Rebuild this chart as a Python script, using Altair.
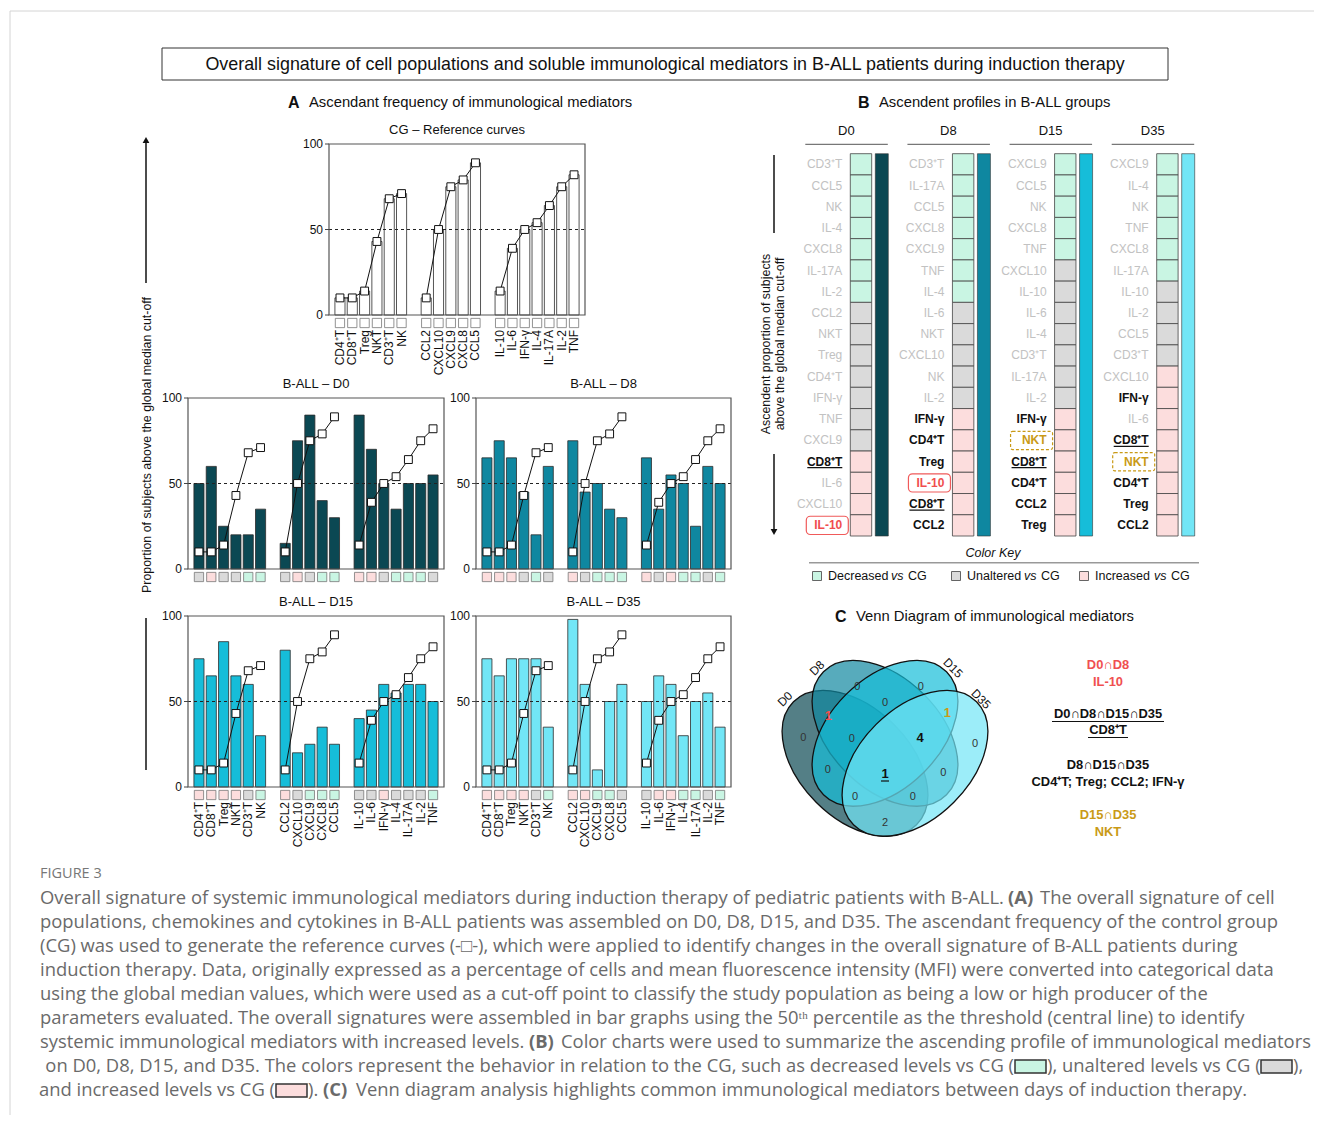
import altair as alt
import pandas as pd

# ---------------- values ----------------
CELLS = ["CD4⁺T", "CD8⁺T", "Treg", "NKT", "CD3⁺T", "NK"]
CHEMOKINES = ["CCL2", "CXCL10", "CXCL9", "CXCL8", "CCL5"]
CYTOKINES = ["IL-10", "IL-6", "IFN-γ", "IL-4", "IL-17A", "IL-2", "TNF"]

CG_REFERENCE = [10, 10, 14, 43, 68, 71, 10, 50, 75, 79, 89, 14, 39, 50, 54, 64, 75, 82]
BALL_D0 = [50, 60, 25, 20, 20, 35, 15, 75, 90, 40, 30, 90, 70, 50, 35, 50, 50, 55]
BALL_D8 = [65, 75, 65, 45, 20, 60, 75, 45, 50, 35, 30, 65, 35, 55, 50, 25, 60, 50]
BALL_D15 = [75, 65, 85, 65, 60, 30, 80, 20, 25, 35, 25, 40, 45, 60, 55, 60, 60, 50]
BALL_D35 = [75, 65, 75, 75, 75, 35, 98, 60, 10, 50, 60, 50, 65, 60, 30, 50, 55, 35]
Y_TICKS = [0, 50, 100]

DAYS = ["D0", "D8", "D15", "D35"]
PROFILE_D0 = ["CD3⁺T", "CCL5", "NK", "IL-4", "CXCL8", "IL-17A", "IL-2", "CCL2", "NKT",
              "Treg", "CD4⁺T", "IFN-γ", "TNF", "CXCL9", "CD8⁺T", "IL-6", "CXCL10", "IL-10"]
STATUS_D0 = ["dec", "dec", "dec", "dec", "dec", "dec", "dec", "un", "un",
             "un", "un", "un", "un", "un", "inc", "inc", "inc", "inc"]
PROFILE_D8 = ["CD3⁺T", "IL-17A", "CCL5", "CXCL8", "CXCL9", "TNF", "IL-4", "IL-6", "NKT",
              "CXCL10", "NK", "IL-2", "IFN-γ", "CD4⁺T", "Treg", "IL-10", "CD8⁺T", "CCL2"]
STATUS_D8 = ["dec", "dec", "dec", "dec", "dec", "dec", "dec", "un", "un",
             "un", "un", "un", "inc", "inc", "inc", "inc", "inc", "inc"]
PROFILE_D15 = ["CXCL9", "CCL5", "NK", "CXCL8", "TNF", "CXCL10", "IL-10", "IL-6", "IL-4",
               "CD3⁺T", "IL-17A", "IL-2", "IFN-γ", "NKT", "CD8⁺T", "CD4⁺T", "CCL2", "Treg"]
STATUS_D15 = ["dec", "dec", "dec", "dec", "dec", "un", "un", "un", "un",
              "un", "un", "un", "inc", "inc", "inc", "inc", "inc", "inc"]
PROFILE_D35 = ["CXCL9", "IL-4", "NK", "TNF", "CXCL8", "IL-17A", "IL-10", "IL-2", "CCL5",
               "CD3⁺T", "CXCL10", "IFN-γ", "IL-6", "CD8⁺T", "NKT", "CD4⁺T", "Treg", "CCL2"]
STATUS_D35 = ["dec", "dec", "dec", "dec", "dec", "dec", "un", "un", "un",
              "un", "inc", "inc", "inc", "inc", "inc", "inc", "inc", "inc"]
HIGHLIGHT_D0 = {"CD8⁺T": "under", "IL-10": "red"}
HIGHLIGHT_D8 = {"IFN-γ": "bold", "CD4⁺T": "bold", "Treg": "bold", "IL-10": "red",
                "CD8⁺T": "under", "CCL2": "bold"}
HIGHLIGHT_D15 = {"IFN-γ": "bold", "NKT": "gold", "CD8⁺T": "under", "CD4⁺T": "bold",
                 "CCL2": "bold", "Treg": "bold"}
HIGHLIGHT_D35 = {"IFN-γ": "bold", "CD8⁺T": "under", "NKT": "gold", "CD4⁺T": "bold",
                 "Treg": "bold", "CCL2": "bold"}

VENN_SETS = ["D0", "D8", "D15", "D35"]
VENN_REGIONS = ["D0", "D8", "D15", "D35", "D0∩D8", "D8∩D15", "D15∩D35", "D0∩D8∩D15",
                "D8∩D15∩D35", "D0∩D15", "D0∩D8∩D15∩D35", "D8∩D35", "D0∩D15∩D35",
                "D0∩D8∩D35", "D0∩D35"]
VENN_COUNTS = [0, 0, 0, 0, 1, 0, 1, 0, 4, 0, 1, 0, 0, 0, 2]
VENN_NOTES = [("D0∩D8", "red"), ("IL-10", "red"),
              ("D0∩D8∩D15∩D35", "black"), ("CD8⁺T", "black"),
              ("D8∩D15∩D35", "black"), ("CD4⁺T; Treg; CCL2; IFN-γ", "black"),
              ("D15∩D35", "gold"), ("NKT", "gold")]

TITLE = ("Overall signature of cell populations and soluble immunological mediators "
         "in B-ALL patients during induction therapy")
CAPTION = [
    ["Overall signature of systemic immunological mediators during induction therapy of pediatric patients with B-ALL.",
     "(A)", "The overall signature of cell"],
    ["populations, chemokines and cytokines in B-ALL patients was assembled on D0, D8, D15, and D35. The ascendant frequency of the control group"],
    ["(CG) was used to generate the reference curves (-□-), which were applied to identify changes in the overall signature of B-ALL patients during"],
    ["induction therapy. Data, originally expressed as a percentage of cells and mean fluorescence intensity (MFI) were converted into categorical data"],
    ["using the global median values, which were used as a cut-off point to classify the study population as being a low or high producer of the"],
    ["parameters evaluated. The overall signatures were assembled in bar graphs using the 50ᵗʰ percentile as the threshold (central line) to identify"],
    ["systemic immunological mediators with increased levels.", "(B)",
     "Color charts were used to summarize the ascending profile of immunological mediators"],
    ["on D0, D8, D15, and D35. The colors represent the behavior in relation to the CG, such as decreased levels vs CG (",
     "), unaltered levels vs CG (", "),"],
    ["and increased levels vs CG (", ").", "(C)",
     "Venn diagram analysis highlights common immunological mediators between days of induction therapy."],
]

# ---------------- layout / style ----------------
W, H = 1306, 1107
FONT = "Liberation Sans"
CAP_FONT = "Open Sans"
STATUS_COLORS = {"dec": "#c9f5e3", "un": "#dadada", "inc": "#fcdddd", "ref": "#ffffff"}
DAY_COLORS = {"CG": "#ffffff", "D0": "#0b4853", "D8": "#0f87a0", "D15": "#16bdd9", "D35": "#72e6f6"}
KIND_COLORS = {"bold": "#111111", "under": "#111111", "red": "#f04e4e", "gold": "#c99a16"}
ONE = pd.DataFrame({"k": [0]})

MEDIATORS = CELLS + CHEMOKINES + CYTOKINES
GROUP = ["cells"] * len(CELLS) + ["chemokines"] * len(CHEMOKINES) + ["cytokines"] * len(CYTOKINES)
X_DOMAIN = CELLS + [" "] + CHEMOKINES + ["  "] + CYTOKINES
BALL = {"D0": BALL_D0, "D8": BALL_D8, "D15": BALL_D15, "D35": BALL_D35}
PROFILE = {"D0": PROFILE_D0, "D8": PROFILE_D8, "D15": PROFILE_D15, "D35": PROFILE_D35}
STATUS = {"D0": STATUS_D0, "D8": STATUS_D8, "D15": STATUS_D15, "D35": STATUS_D35}
HIGHLIGHT = {"D0": HIGHLIGHT_D0, "D8": HIGHLIGHT_D8, "D15": HIGHLIGHT_D15, "D35": HIGHLIGHT_D35}
STATUS_OF = {d: dict(zip(PROFILE[d], STATUS[d])) for d in DAYS}

status_scale = alt.Scale(domain=list(STATUS_COLORS), range=list(STATUS_COLORS.values()))


def txt(text, x, y, size=12, weight="normal", color="#111", align="center", angle=0,
        font=FONT, style="normal", baseline="middle"):
    kw = dict(fontSize=size, fontWeight=weight, color=color, align=align, baseline=baseline,
              font=font, fontStyle=style)
    if angle:
        kw["angle"] = angle
    return alt.Chart(ONE).mark_text(**kw).encode(x=alt.value(x), y=alt.value(y), text=alt.value(text))


def hrule(x1, x2, y, color="#111", width=1.0, dash=None):
    kw = dict(color=color, strokeWidth=width)
    if dash:
        kw["strokeDash"] = dash
    return alt.Chart(ONE).mark_rule(**kw).encode(x=alt.value(x1), x2=alt.value(x2), y=alt.value(y))


def vrule(x, y1, y2, color="#111", width=1.0):
    return alt.Chart(ONE).mark_rule(color=color, strokeWidth=width).encode(
        x=alt.value(x), y=alt.value(y1), y2=alt.value(y2))


def box(x1, x2, y1, y2, stroke="#333", width=1.0, fill=None, radius=0):
    kw = dict(stroke=stroke, strokeWidth=width, cornerRadius=radius)
    if fill:
        kw["fill"] = fill
    else:
        kw["fillOpacity"] = 0
    return alt.Chart(ONE).mark_rect(**kw).encode(
        x=alt.value(x1), x2=alt.value(x2), y=alt.value(y1), y2=alt.value(y2))


def tri(x, y, shape):
    return alt.Chart(ONE).mark_point(shape=shape, size=45, filled=True, color="#111", opacity=1).encode(
        x=alt.value(x), y=alt.value(y))


def bar_panel(key, x0, x1, yt, yb, title, labels):
    values = CG_REFERENCE if key == "CG" else BALL[key]
    status = ["ref"] * len(MEDIATORS) if key == "CG" else [STATUS_OF[key][m] for m in MEDIATORS]
    df = pd.DataFrame({"name": MEDIATORS, "value": values, "ref": CG_REFERENCE, "grp": GROUP,
                       "idx": list(range(len(MEDIATORS))), "status": status})
    dft = pd.DataFrame({"v": Y_TICKS})
    xs = alt.Scale(domain=X_DOMAIN, range=[x0, x1], paddingInner=0.18, paddingOuter=0.48)
    ys = alt.Scale(domain=[0, 100], range=[yb, yt], nice=False, zero=False)
    X = alt.X("name:N", scale=xs, axis=None)
    base = alt.Chart(df)
    bars = base.mark_bar(fill=DAY_COLORS[key], stroke="#2b2b2b", strokeWidth=0.8).encode(
        x=X, y=alt.Y("value:Q", scale=ys, axis=None))
    mid = alt.Chart(ONE).mark_rule(color="#222", strokeWidth=1, strokeDash=[3, 3]).encode(
        y=alt.Y(datum=50, scale=ys, axis=None), x=alt.value(x0), x2=alt.value(x1))
    line = base.mark_line(color="#111", strokeWidth=1).encode(
        x=X, y=alt.Y("ref:Q", scale=ys, axis=None), detail="grp:N", order="idx:Q")
    refsq = base.mark_square(size=62, color="white", stroke="#111", strokeWidth=1, opacity=1).encode(
        x=X, y=alt.Y("ref:Q", scale=ys, axis=None))
    keysq = base.mark_square(size=86, stroke="#777", strokeWidth=0.8, opacity=1).encode(
        x=X, y=alt.value(yb + 8), fill=alt.Fill("status:N", scale=status_scale, legend=None))
    frame = box(x0, x1, yt, yb, stroke="#555", width=1.2)
    ticks = alt.Chart(dft).mark_rule(color="#444", strokeWidth=1).encode(
        y=alt.Y("v:Q", scale=ys, axis=None), x=alt.value(x0 - 4), x2=alt.value(x0))
    ticklab = alt.Chart(dft).mark_text(align="right", baseline="middle", fontSize=12, font=FONT,
                                       color="#111").encode(
        y=alt.Y("v:Q", scale=ys, axis=None), x=alt.value(x0 - 6), text="v:Q")
    head = txt(title, (x0 + x1) / 2, yt - 14, size=13)
    parts = [bars, mid, line, refsq, keysq, frame, ticks, ticklab, head]
    if labels:
        parts.append(base.mark_text(angle=270, align="right", baseline="middle", fontSize=12,
                                    font=FONT, color="#111").encode(
            x=X, y=alt.value(yb + 15), text="name:N"))
    return alt.layer(*parts)


# ---------------- panel B ----------------
rows = []
for ci, d in enumerate(DAYS):
    for r, (m, st) in enumerate(zip(PROFILE[d], STATUS[d])):
        rows.append({"day": d, "col": ci, "rank": r, "rank2": r + 1, "rankc": r + 0.5,
                     "mediator": m, "status": st, "kind": HIGHLIGHT[d].get(m, "plain")})
dfB = pd.DataFrame(rows)
dfDays = pd.DataFrame({"day": DAYS, "col": list(range(4))})
xsB = alt.Scale(domain=[0, 3], range=[842.3, 1148.7], nice=False, zero=False)
ysB = alt.Scale(domain=[0, 18], range=[145.7, 528], nice=False, zero=False)
XB = alt.X("col:Q", scale=xsB, axis=None)
kind_scale = alt.Scale(domain=list(KIND_COLORS), range=list(KIND_COLORS.values()))

cells = alt.Chart(dfB).mark_rect(stroke="#444", strokeWidth=0.8, x2Offset=21.4).encode(
    x=XB, x2="col:Q", y=alt.Y("rank:Q", scale=ysB, axis=None), y2="rank2:Q",
    fill=alt.Fill("status:N", scale=status_scale, legend=None))
strips = alt.Chart(dfDays).mark_rect(stroke="#333", strokeWidth=0.6, xOffset=25, x2Offset=38).encode(
    x=XB, x2="col:Q", y=alt.Y(datum=0, scale=ysB, axis=None), y2=alt.Y2(datum=18),
    fill=alt.Fill("day:N", scale=alt.Scale(domain=DAYS, range=[DAY_COLORS[d] for d in DAYS]), legend=None))
plain = alt.Chart(dfB).transform_filter("datum.kind == 'plain'").mark_text(
    align="right", baseline="middle", dx=-8, fontSize=12, font=FONT, color="#c2c2c2").encode(
    x=XB, y=alt.Y("rankc:Q", scale=ysB, axis=None), text="mediator:N")
boldlab = alt.Chart(dfB).transform_filter("datum.kind != 'plain'").mark_text(
    align="right", baseline="middle", dx=-8, fontSize=12, fontWeight="bold", font=FONT).encode(
    x=XB, y=alt.Y("rankc:Q", scale=ysB, axis=None), text="mediator:N",
    color=alt.Color("kind:N", scale=kind_scale, legend=None))
redbox = alt.Chart(dfB).transform_filter("datum.kind == 'red'").mark_rect(
    fillOpacity=0, stroke="#f05a5a", strokeWidth=1.2, cornerRadius=4, xOffset=-44, x2Offset=-2,
    yOffset=1.5, y2Offset=-1.5).encode(
    x=XB, x2="col:Q", y=alt.Y("rank:Q", scale=ysB, axis=None), y2="rank2:Q")
goldbox = alt.Chart(dfB).transform_filter("datum.kind == 'gold'").mark_rect(
    fillOpacity=0, stroke="#c99a16", strokeWidth=1.2, strokeDash=[3, 2], cornerRadius=2,
    xOffset=-44, x2Offset=-2, yOffset=1.5, y2Offset=-1.5).encode(
    x=XB, x2="col:Q", y=alt.Y("rank:Q", scale=ysB, axis=None), y2="rank2:Q")
underline = alt.Chart(dfB).transform_filter("datum.kind == 'under'").mark_rule(
    color="#111", strokeWidth=1.2, xOffset=-43, x2Offset=-8, yOffset=16.6).encode(
    x=XB, x2="col:Q", y=alt.Y("rank:Q", scale=ysB, axis=None))
headers = alt.Chart(dfDays).mark_text(dx=-4, fontSize=13, font=FONT, color="#111").encode(
    x=XB, y=alt.value(122.7), text="day:N")
headrule = alt.Chart(dfDays).mark_rule(color="#777", strokeWidth=1.2, xOffset=-45, x2Offset=37.5).encode(
    x=XB, x2="col:Q", y=alt.value(136.3))
panelB = alt.layer(cells, strips, plain, boldlab, redbox, goldbox, underline, headers, headrule
                   ).resolve_scale(fill="independent", color="independent")

# ---------------- Venn ----------------
A_SEMI, B_SEMI = 87.0, 55.0
R, K = B_SEMI / A_SEMI, 0.5523
ELLIPSE = (f"M 1 0 C 1 {R*K:.4f} {K:.4f} {R:.4f} 0 {R:.4f} "
           f"C {-K:.4f} {R:.4f} -1 {R*K:.4f} -1 0 "
           f"C -1 {-R*K:.4f} {-K:.4f} {-R:.4f} 0 {-R:.4f} "
           f"C {K:.4f} {-R:.4f} 1 {-R*K:.4f} 1 0 Z")
VENN_LAYOUT = {"D0": (847, 755.3, 45), "D8": (877, 725.3, 45), "D15": (877, 725.3, 135), "D35": (907, 755.3, 135)}
dfE = pd.DataFrame({"set": VENN_SETS,
                    "cx": [VENN_LAYOUT[s][0] for s in VENN_SETS],
                    "cy": [VENN_LAYOUT[s][1] for s in VENN_SETS],
                    "ang": [VENN_LAYOUT[s][2] for s in VENN_SETS]})
ellipses = alt.Chart(dfE).mark_point(shape=ELLIPSE, size=(2 * A_SEMI) ** 2, filled=True, fillOpacity=0.7,
                                     strokeOpacity=1, stroke="#111", strokeWidth=1.3, opacity=1).encode(
    x=alt.X("cx:Q", scale=None, axis=None), y=alt.Y("cy:Q", scale=None, axis=None),
    angle=alt.Angle("ang:Q", scale=None),
    fill=alt.Fill("set:N", scale=alt.Scale(domain=VENN_SETS, range=[DAY_COLORS[d] for d in DAYS]), legend=None))
REGION_POS = {"D0": (795.3, 730.3), "D8": (849.3, 679.3), "D15": (912.7, 679.3), "D35": (967, 736.3),
              "D0∩D8": (820.3, 708), "D8∩D15": (877, 695.3), "D15∩D35": (939.3, 704.7),
              "D0∩D8∩D15": (843.7, 731), "D8∩D15∩D35": (912, 730.3), "D0∩D15": (819.7, 762),
              "D0∩D8∩D15∩D35": (877, 766), "D8∩D35": (935.3, 765.3), "D0∩D15∩D35": (847, 788.7),
              "D0∩D8∩D35": (904.7, 788.7), "D0∩D35": (877, 815.3)}
REGION_STYLE = {"D0∩D8": "red", "D15∩D35": "gold", "D8∩D15∩D35": "bold", "D0∩D8∩D15∩D35": "bold"}
dfR = pd.DataFrame({"region": VENN_REGIONS, "count": VENN_COUNTS,
                    "x": [REGION_POS[r][0] for r in VENN_REGIONS],
                    "y": [REGION_POS[r][1] for r in VENN_REGIONS],
                    "kind": [REGION_STYLE.get(r, "plain") for r in VENN_REGIONS]})
counts_plain = alt.Chart(dfR).transform_filter("datum.kind == 'plain'").mark_text(
    fontSize=11, font=FONT, color="#333").encode(
    x=alt.X("x:Q", scale=None, axis=None), y=alt.Y("y:Q", scale=None, axis=None), text="count:Q")
counts_bold = alt.Chart(dfR).transform_filter("datum.kind != 'plain'").mark_text(
    fontSize=13, font=FONT, fontWeight="bold").encode(
    x=alt.X("x:Q", scale=None, axis=None), y=alt.Y("y:Q", scale=None, axis=None), text="count:Q",
    color=alt.Color("kind:N", scale=alt.Scale(domain=["bold", "red", "gold"],
                                              range=["#111", "#f05050", "#c99a16"]), legend=None))

# ---------------- assemble ----------------
layers = [
    hrule(2, W, 3, color="#d4d4d4"), vrule(2, 3, H, color="#d4d4d4"),
    box(154, 1160, 40, 72, stroke="#333", width=1),
    txt(TITLE, 657, 57, size=17.9),
    txt("A", 280, 95, size=16, weight="bold", align="left"),
    txt("Ascendant frequency of immunological mediators", 301, 95, size=14.8, align="left"),
    txt("B", 850, 95, size=16, weight="bold", align="left"),
    txt("Ascendent profiles in B-ALL groups", 871, 95, size=14.8, align="left"),
    txt("C", 827, 609, size=16, weight="bold", align="left"),
    txt("Venn Diagram of immunological mediators", 848, 609, size=14.8, align="left"),
    txt("Proportion of subjects above the global median cut-off", 139, 437, size=12.4, angle=270),
    vrule(138, 135, 275, width=1.5), tri(138, 132, "triangle-up"), vrule(138, 610, 762, width=1.5),
    bar_panel("CG", 321, 577, 136, 307, "CG – Reference curves", True),
    bar_panel("D0", 180, 436, 390, 561, "B-ALL – D0", False),
    bar_panel("D8", 468, 723, 390, 561, "B-ALL – D8", False),
    bar_panel("D15", 180, 436, 608, 779, "B-ALL – D15", True),
    bar_panel("D35", 468, 723, 608, 779, "B-ALL – D35", True),
    txt("Ascendent proportion of subjects", 758, 336, size=12.4, angle=270),
    txt("above the global median cut-off", 772, 336, size=12.4, angle=270),
    vrule(766, 147, 225, width=1.5), vrule(766, 446, 522, width=1.5), tri(766, 524, "triangle-down"),
    panelB,
    txt("Color Key", 985, 545, size=12.5, style="italic"),
    hrule(801, 1191, 554.7, color="#999", width=1.5),
]
for (sx, lab, vsx, cgx, st) in [(809, "Decreased", 883, 900, "dec"),
                                (948, "Unaltered", 1016, 1033, "un"),
                                (1076, "Increased", 1146, 1163, "inc")]:
    layers.append(box(sx - 4.5, sx + 4.5, 563.5, 572.5, stroke="#555", width=0.9, fill=STATUS_COLORS[st]))
    layers.append(txt(lab, sx + 11, 568, size=12.5, align="left"))
    layers.append(txt("vs", vsx, 568, size=12.5, align="left", style="italic"))
    layers.append(txt("CG", cgx, 568, size=12.5, align="left"))

layers += [ellipses, counts_plain, counts_bold, hrule(873, 881, 773, width=1.2)]
for (t, lbl_x, lbl_y, a) in [("D0", 777, 691, 315), ("D8", 809, 660, 315), ("D15", 945, 660, 45), ("D35", 973, 691, 45)]:
    layers.append(txt(t, lbl_x, lbl_y, size=12, angle=a))
NOTE_COLORS = {"red": "#f05050", "black": "#111", "gold": "#c99a16"}
for (t, c), yy in zip(VENN_NOTES, [657, 673.7, 706, 722, 757, 773.7, 807, 823.7]):
    layers.append(txt(t, 1100, yy, size=12.9, weight="bold", color=NOTE_COLORS[c]))
layers += [hrule(1044, 1156, 713.5, width=1.2), hrule(1080, 1120, 729.5, width=1.2)]

# caption
CAP_COLOR = "#6a6a6a"
CAP_SIZE = 18.4
layers.append(txt("FIGURE 3", 32, 866, size=14.5, align="left", font=CAP_FONT, color="#777"))
ANCHORS = {0: [(32, "left", "normal"), (1000, "left", "bold"), (1032, "left", "normal")],
           6: [(32, "left", "normal"), (521, "left", "bold"), (553, "left", "normal")],
           7: [(1006, "right", "normal"), (1039, "left", "normal"), (1285, "left", "normal")],
           8: [(267, "right", "normal"), (300, "left", "normal"), (315, "left", "bold"), (348, "left", "normal")]}
for i, segs in enumerate(CAPTION):
    yy = 890 + 24 * i
    anchors = ANCHORS.get(i, [(32, "left", "normal")])
    for seg, (ax, al, wt) in zip(segs, anchors):
        layers.append(txt(seg, ax, yy, size=CAP_SIZE, align=al, font=CAP_FONT, color=CAP_COLOR, weight=wt))
layers.append(box(1007, 1038, 1052, 1065, stroke="#333", width=1.5, fill=STATUS_COLORS["dec"]))
layers.append(box(1253, 1284, 1052, 1065, stroke="#333", width=1.5, fill=STATUS_COLORS["un"]))
layers.append(box(268, 299, 1076, 1089, stroke="#333", width=1.5, fill=STATUS_COLORS["inc"]))

chart = alt.layer(*layers).properties(
    width=W, height=H, autosize=alt.AutoSizeParams(type="none"), padding=0
).resolve_scale(
    x="independent", y="independent", fill="independent", color="independent"
).configure_view(stroke=None)

chart.save("out.html", embed_options={"renderer": "svg", "actions": False})
